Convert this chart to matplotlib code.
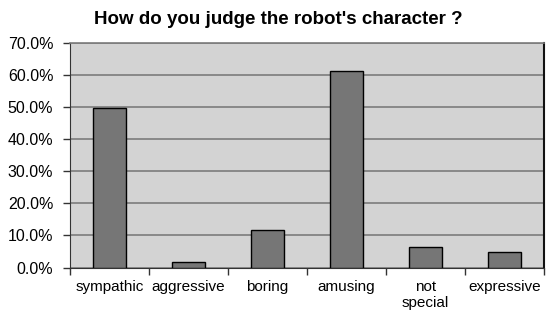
import numpy as np
import matplotlib
matplotlib.use('Agg')
import matplotlib.pyplot as plt
from matplotlib.ticker import FuncFormatter

categories = ['sympathic', 'aggressive', 'boring', 'amusing', 'not\nspecial', 'expressive']
values = [49.8, 1.6, 11.7, 61.3, 6.5, 4.9]
yticks = [0, 10, 20, 30, 40, 50, 60, 70]

plt.rcParams['font.family'] = ['Liberation Sans', 'DejaVu Sans']

fig = plt.figure(figsize=(5.49, 3.16), dpi=100)
ax = fig.add_axes([70 / 549, 1 - 267.5 / 316, 474 / 549, 224.5 / 316])

x = np.arange(len(categories))
ax.set_facecolor('#d3d3d3')
ax.yaxis.grid(True, color='#7c7c7c', linewidth=1.2)
ax.set_axisbelow(True)
ax.bar(x, values, width=0.42, color='#767676', edgecolor='black', linewidth=1.0, zorder=3)

ax.set_xlim(-0.5, len(categories) - 0.5)
ax.set_ylim(0, 70)
ax.set_yticks(yticks)
ax.yaxis.set_major_formatter(FuncFormatter(lambda v, p: '%.1f%%' % v))
ax.set_xticks(x)
ax.set_xticklabels(categories, fontsize=11, linespacing=1.15)
ax.set_xticks(np.arange(-0.5, len(categories), 1), minor=True)
ax.tick_params(axis='x', which='major', length=0, pad=9)
ax.tick_params(axis='x', which='minor', length=5, width=1, color='#333333', direction='out')
ax.tick_params(axis='y', length=5, width=1, labelsize=11.5, direction='out', color='#333333', pad=7)

ax.spines['top'].set_color('#7c7c7c')
ax.spines['top'].set_linewidth(1.2)
ax.spines['right'].set_color('#111111')
ax.spines['right'].set_linewidth(1.5)
ax.spines['left'].set_color('#333333')
ax.spines['bottom'].set_color('#333333')

fig.text(278 / 549, 1 - 20 / 316, "How do you judge the robot's character ?",
         fontsize=13.5, fontweight='bold', ha='center', va='center')

fig.savefig('out.png', dpi=100)
